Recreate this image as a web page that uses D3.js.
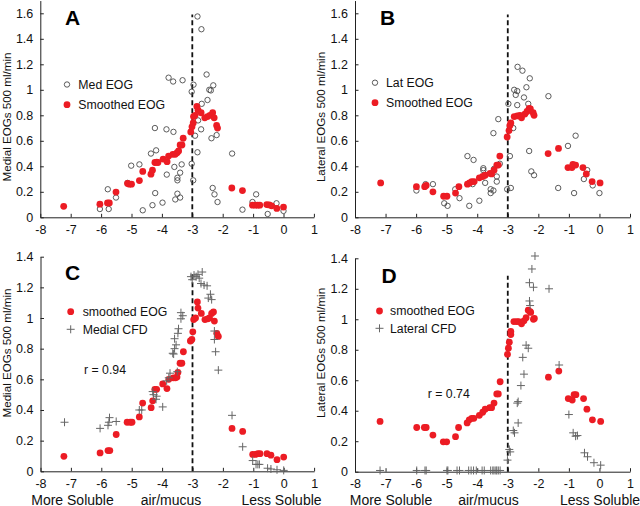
<!DOCTYPE html>
<html><head><meta charset="utf-8">
<script src="https://cdn.jsdelivr.net/npm/d3@7"></script>
<style>
html,body{margin:0;padding:0;background:#fff;}
svg{display:block;font-family:"Liberation Sans",Arial,sans-serif;}
</style></head><body>
<svg id="chart" width="640" height="506"></svg>
<script>
// ---------------- data ----------------
const xTicks = [-8,-7,-6,-5,-4,-3,-2,-1,0,1];
const xTickLabels = ["-8","-7","-6","-5","-4","-3","-2","-1","0","1"];
const yTicksTop = [0,0.2,0.4,0.6,0.8,1,1.2,1.4,1.6];
const yTickLabelsTop = ["0","0.2","0.4","0.6","0.8","1","1.2","1.4","1.6"];
const yTicksBottom = [0,0.2,0.4,0.6,0.8,1,1.2,1.4];
const yTickLabelsBottom = ["0","0.2","0.4","0.6","0.8","1","1.2","1.4"];
const panelLetters = ["A","B","C","D"];
const yAxisTitles = ["Medial EOGs 500 ml/min","Lateral EOGs 500 ml/min","Medial EOGs 500 ml/min","Lateral EOGs 500 ml/min"];
const legendLabels = [["Med EOG","Smoothed EOG"],["Lat EOG","Smoothed EOG"],["smoothed EOG","Medial CFD"],["smoothed EOG","Lateral CFD"]];
const correlationLabels = ["r = 0.94","r = 0.74"];
const solubilityLabels = ["More Soluble","air/mucus","Less Soluble"];
const boundaryX = -3;
const boundaryTop = [1.59,1.59,1.29,1.285];

// Panel A
const medEOG = [[-6.04,0.065],[-5.78,0.22],[-5.75,0.065],[-5.51,0.155],[-5.13,0.27],[-5.01,0.405],[-4.74,0.415],[-4.63,0.055],[-4.36,0.50],[-4.31,0.095],[-4.23,0.70],[-4.22,0.19],[-4.19,0.525],[-3.98,0.115],[-3.85,0.69],[-3.84,0.335],[-3.78,1.095],[-3.63,1.065],[-3.62,0.67],[-3.59,0.395],[-3.56,0.14],[-3.49,0.185],[-3.49,0.29],[-3.49,0.31],[-3.40,0.35],[-3.40,0.155],[-3.32,1.075],[-3.35,0.415],[-3.02,0.42],[-3.02,0.985],[-2.97,0.29],[-2.96,1.04],[-2.91,0.64],[-2.83,1.575],[-2.70,1.475],[-2.81,0.76],[-2.83,0.51],[-2.69,0.89],[-2.71,0.69],[-2.53,1.12],[-2.50,0.92],[-2.44,1.0],[-2.39,0.995],[-2.31,1.035],[-2.37,0.62],[-2.20,0.645],[-2.33,0.23],[-2.27,0.18],[-2.17,0.12],[-1.69,0.50],[-1.35,0.06],[-1.02,0.12],[-0.90,0.18],[-0.52,0.026],[-0.23,0.11],[0.0,0.05]];
const smoothedA = [[-7.23,0.086],[-6.04,0.103],[-5.79,0.113],[-5.73,0.113],[-5.51,0.198],[-5.13,0.265],[-5.07,0.26],[-5.0,0.26],[-4.74,0.288],[-4.63,0.36],[-4.36,0.338],[-4.31,0.37],[-4.23,0.43],[-4.17,0.432],[-4.13,0.43],[-3.96,0.457],[-3.83,0.436],[-3.78,0.48],[-3.64,0.494],[-3.56,0.494],[-3.50,0.507],[-3.45,0.52],[-3.40,0.567],[-3.34,0.567],[-3.30,0.62],[-3.05,0.67],[-3.01,0.71],[-2.97,0.74],[-2.96,0.79],[-2.91,0.80],[-2.85,0.87],[-2.81,0.84],[-2.71,0.82],[-2.59,0.78],[-2.50,0.79],[-2.42,0.80],[-2.33,0.82],[-2.28,0.78],[-2.20,0.72],[-2.17,0.70],[-1.70,0.23],[-1.35,0.21],[-1.02,0.095],[-0.93,0.095],[-0.85,0.095],[-0.78,0.095],[-0.55,0.10],[-0.47,0.097],[-0.39,0.09],[-0.22,0.07],[0.0,0.08]];

// Panel B
const latEOG = [[-5.99,0.21],[-5.69,0.26],[-5.45,0.26],[-5.08,0.11],[-4.97,0.09],[-4.72,0.22],[-4.58,0.15],[-4.32,0.48],[-4.26,0.09],[-4.12,0.45],[-4.15,0.26],[-3.93,0.13],[-3.80,0.385],[-3.80,0.37],[-3.74,0.27],[-3.56,0.22],[-3.56,0.19],[-3.47,0.21],[-3.47,0.66],[-3.45,0.38],[-3.36,0.32],[-3.36,0.28],[-3.31,0.77],[-3.26,0.42],[-3.02,0.22],[-2.98,0.89],[-2.93,0.48],[-2.90,0.23],[-2.82,0.70],[-2.79,1.0],[-2.74,0.96],[-2.69,0.88],[-2.69,0.99],[-2.68,1.18],[-2.52,1.15],[-2.47,0.94],[-2.39,1.02],[-2.33,0.89],[-2.30,0.52],[-2.28,1.09],[-2.23,0.36],[-2.14,0.33],[-1.67,0.95],[-1.35,0.23],[-1.03,0.56],[-0.83,0.19],[-0.78,0.64],[-0.51,0.30],[-0.40,0.37],[-0.22,0.25],[0.0,0.19]];
const smoothedB = [[-7.16,0.27],[-5.99,0.24],[-5.72,0.24],[-5.67,0.25],[-5.45,0.20],[-5.10,0.165],[-4.99,0.165],[-4.71,0.19],[-4.60,0.24],[-4.32,0.26],[-4.25,0.27],[-4.18,0.28],[-4.10,0.28],[-3.93,0.31],[-3.82,0.32],[-3.74,0.33],[-3.58,0.345],[-3.53,0.34],[-3.45,0.37],[-3.36,0.41],[-3.31,0.41],[-3.26,0.48],[-3.02,0.63],[-2.96,0.68],[-2.93,0.72],[-2.90,0.74],[-2.79,0.79],[-2.69,0.795],[-2.60,0.80],[-2.55,0.78],[-2.44,0.81],[-2.37,0.83],[-2.30,0.855],[-2.26,0.85],[-2.17,0.82],[-2.14,0.80],[-1.68,0.50],[-1.34,0.54],[-1.03,0.39],[-0.90,0.39],[-0.87,0.415],[-0.78,0.41],[-0.54,0.39],[-0.43,0.34],[-0.24,0.28],[0.02,0.27]];

// Panel C
const smoothedC = [[-7.23,0.098],[-6.04,0.12],[-5.78,0.135],[-5.72,0.135],[-5.51,0.24],[-5.15,0.32],[-5.05,0.32],[-4.99,0.32],[-4.75,0.355],[-4.64,0.445],[-4.36,0.415],[-4.31,0.46],[-4.24,0.535],[-4.18,0.535],[-3.98,0.57],[-3.84,0.54],[-3.78,0.60],[-3.63,0.61],[-3.56,0.61],[-3.51,0.615],[-3.48,0.645],[-3.41,0.705],[-3.35,0.705],[-3.30,0.78],[-3.07,0.85],[-3.02,0.86],[-2.99,0.91],[-2.96,0.99],[-2.90,1.0],[-2.84,1.105],[-2.82,1.065],[-2.71,1.03],[-2.59,0.99],[-2.50,0.995],[-2.44,1.0],[-2.37,1.03],[-2.31,1.04],[-2.28,0.98],[-2.20,0.90],[-2.15,0.88],[-1.70,0.28],[-1.35,0.26],[-1.02,0.11],[-0.93,0.11],[-0.85,0.115],[-0.78,0.115],[-0.55,0.115],[-0.42,0.105],[-0.22,0.076],[0.0,0.093]];
const medialCFD = [[-7.21,0.32],[-6.04,0.28],[-5.78,0.30],[-5.75,0.32],[-5.73,0.35],[-5.51,0.325],[-4.75,0.40],[-4.67,0.40],[-4.31,0.52],[-4.28,0.50],[-4.20,0.47],[-4.18,0.49],[-3.98,0.42],[-3.85,0.59],[-3.78,0.61],[-3.74,0.64],[-3.65,0.77],[-3.59,0.80],[-3.54,0.825],[-3.59,0.865],[-3.62,0.765],[-3.50,0.65],[-3.46,0.93],[-3.48,0.90],[-3.38,1.035],[-3.32,1.015],[-3.38,0.995],[-3.05,1.27],[-3.01,1.25],[-2.95,1.28],[-2.88,1.27],[-2.82,1.285],[-2.78,1.26],[-2.68,1.30],[-2.72,1.225],[-2.62,1.215],[-2.52,1.21],[-2.48,1.13],[-2.41,1.155],[-2.37,1.12],[-2.28,0.915],[-2.28,0.86],[-2.24,0.78],[-2.15,0.66],[-1.70,0.365],[-1.35,0.16],[-1.02,0.07],[-0.91,0.045],[-0.85,0.045],[-0.80,0.045],[-0.53,0.02],[-0.42,0.015],[-0.22,0.01],[0.0,0.006]];

// Panel D
const smoothedD = [[-7.18,0.33],[-5.98,0.29],[-5.73,0.29],[-5.67,0.29],[-5.45,0.24],[-5.11,0.196],[-5.00,0.196],[-4.71,0.23],[-4.61,0.29],[-4.33,0.32],[-4.26,0.34],[-4.18,0.35],[-4.11,0.35],[-3.93,0.37],[-3.82,0.39],[-3.74,0.41],[-3.59,0.42],[-3.53,0.42],[-3.45,0.45],[-3.36,0.51],[-3.31,0.51],[-3.25,0.59],[-3.01,0.77],[-2.98,0.81],[-2.95,0.85],[-2.90,0.90],[-2.90,0.92],[-2.80,0.985],[-2.71,0.985],[-2.64,0.985],[-2.55,0.97],[-2.47,0.99],[-2.40,1.01],[-2.33,1.06],[-2.27,1.05],[-2.25,1.045],[-2.16,1.0],[-2.13,1.005],[-1.67,0.62],[-1.33,0.66],[-1.02,0.48],[-0.89,0.47],[-0.83,0.505],[-0.77,0.505],[-0.52,0.48],[-0.41,0.41],[-0.23,0.34],[0.04,0.33]];
const lateralCFD = [[-7.18,0.008],[-5.98,0.008],[-5.71,0.008],[-5.67,0.008],[-4.99,0.008],[-4.96,0.008],[-4.66,0.008],[-4.58,0.008],[-4.28,0.008],[-4.20,0.008],[-4.12,0.008],[-4.03,0.008],[-3.84,0.008],[-3.77,0.008],[-3.56,0.008],[-3.49,0.008],[-3.45,0.008],[-3.39,0.008],[-3.36,0.008],[-3.31,0.008],[-3.25,0.008],[-3.01,0.076],[-2.95,0.146],[-2.92,0.13],[-2.82,0.27],[-2.78,0.255],[-2.66,0.32],[-2.69,0.45],[-2.66,0.46],[-2.57,0.565],[-2.47,0.64],[-2.51,0.75],[-2.40,0.83],[-2.33,0.81],[-2.29,1.12],[-2.27,1.09],[-2.29,1.24],[-2.16,1.21],[-2.21,1.33],[-2.11,1.415],[-1.65,1.20],[-1.32,0.70],[-1.00,0.375],[-0.86,0.255],[-0.78,0.233],[-0.72,0.237],[-0.49,0.124],[-0.39,0.098],[-0.18,0.059],[0.04,0.043]];

// ---------------- layout ----------------
const RED = "#ec1c24";
const svg = d3.select("#chart");
const panels = [
  {letter:0, x:[40.3,313.9], y:[217.3,0.55], ymax:1.7, yt:yTicksTop, ytl:yTickLabelsTop,
   letterPos:[65,25], titlePos:[10.5,117], legend:{mx:67,tx:78.3,y1:84.5,y2:104.7,types:["open","red"]},
   series:[{d:medEOG,t:"open"},{d:smoothedA,t:"red"}]},
  {letter:1, x:[355,630], y:[217.3,0.55], ymax:1.7, yt:yTicksTop, ytl:yTickLabelsTop,
   letterPos:[380,25], titlePos:[324.5,117], legend:{mx:375,tx:386,y1:82.7,y2:102.7,types:["open","red"]},
   series:[{d:latEOG,t:"open"},{d:smoothedB,t:"red"}]},
  {letter:2, x:[40.5,314.1], y:[471.3,256.7], ymax:1.4, yt:yTicksBottom, ytl:yTickLabelsBottom,
   letterPos:[65,279.5], titlePos:[10.5,353], legend:{mx:70.7,tx:82.7,y1:311.7,y2:329.3,types:["red","plus"]},
   series:[{d:smoothedC,t:"red"},{d:medialCFD,t:"plus"}], r:{i:0,x:84,y:370}, sol:[72.5,171,281.5]},
  {letter:3, x:[355,630], y:[471.7,258.3], ymax:1.4, yt:yTicksBottom, ytl:yTickLabelsBottom,
   letterPos:[381.5,282.7], titlePos:[324.5,353], legend:{mx:379.5,tx:390,y1:311,y2:328.3,types:["red","plus"]},
   series:[{d:smoothedD,t:"red"},{d:lateralCFD,t:"plus"}], r:{i:1,x:427.7,y:394}, sol:[391,488.5,600]}
];

function drawMarker(g, type, x, y){
  if(type==="red"){
    g.append("circle").attr("cx",x).attr("cy",y).attr("r",3.4).attr("fill",RED);
  } else if(type==="open"){
    g.append("circle").attr("cx",x).attr("cy",y).attr("r",2.7).attr("fill","none")
      .attr("stroke","#4a4a4a").attr("stroke-width",0.9);
  } else {
    g.append("path").attr("d",`M${x-4},${y}H${x+4}M${x},${y-4}V${y+4}`)
      .attr("stroke","#666").attr("stroke-width",1).attr("fill","none");
  }
}

panels.forEach((p,pi)=>{
  const xs = d3.scaleLinear().domain([-8,1]).range(p.x);
  const ys = d3.scaleLinear().domain([0,p.ymax]).range(p.y);
  const g = svg.append("g");

  const xa = d3.axisBottom(xs).tickValues(xTicks).tickFormat((d,i)=>xTickLabels[i])
    .tickSizeInner(-3.5).tickSizeOuter(0).tickPadding(7.5);
  const gx = g.append("g").attr("transform",`translate(0,${p.y[0]})`).call(xa);
  const ya = d3.axisLeft(ys).tickValues(p.yt).tickFormat((d,i)=>p.ytl[i])
    .tickSizeInner(-3.5).tickSizeOuter(0).tickPadding(7);
  const gy = g.append("g").attr("transform",`translate(${p.x[0]},0)`).call(ya);
  [gx,gy].forEach(a=>{
    a.selectAll("text").attr("font-size",12.5).attr("fill","#111").attr("font-family","Liberation Sans, Arial, sans-serif");
    a.selectAll("line,path").attr("stroke","#222");
  });

  // dashed boundary
  g.append("line").attr("x1",xs(boundaryX)).attr("x2",xs(boundaryX))
    .attr("y1",ys(0)).attr("y2",ys(boundaryTop[pi]))
    .attr("stroke","#111").attr("stroke-width",1.8).attr("stroke-dasharray","5,3");

  // series
  p.series.forEach(s=>{
    const sg = g.append("g");
    s.d.forEach(([dx,dy])=>drawMarker(sg,s.t,xs(dx),ys(dy)));
  });

  // letter
  g.append("text").attr("x",p.letterPos[0]).attr("y",p.letterPos[1])
    .attr("font-size",21).attr("font-weight","bold").attr("fill","#000").text(panelLetters[p.letter]);

  // y title
  g.append("text").attr("transform",`translate(${p.titlePos[0]},${p.titlePos[1]}) rotate(-90)`)
    .attr("text-anchor","middle").attr("font-size",11.6).attr("fill","#111").text(yAxisTitles[pi]);

  // legend
  const L = p.legend;
  const lg = g.append("g");
  drawMarker(lg, L.types[0], L.mx, L.y1);
  drawMarker(lg, L.types[1], L.mx, L.y2);
  [L.y1,L.y2].forEach((yy,i)=>{
    lg.append("text").attr("x",L.tx).attr("y",yy).attr("dy","0.36em")
      .attr("font-size",12.3).attr("fill","#111").text(legendLabels[pi][i]);
  });

  if(p.r){
    g.append("text").attr("x",p.r.x).attr("y",p.r.y).attr("dy","0.36em")
      .attr("font-size",12.3).attr("fill","#111").text(correlationLabels[p.r.i]);
  }
  if(p.sol){
    p.sol.forEach((cx,i)=>{
      g.append("text").attr("x",cx).attr("y",504.5).attr("text-anchor","middle")
        .attr("font-size",14).attr("fill","#111").text(solubilityLabels[i]);
    });
  }
});
</script>
</body></html>
